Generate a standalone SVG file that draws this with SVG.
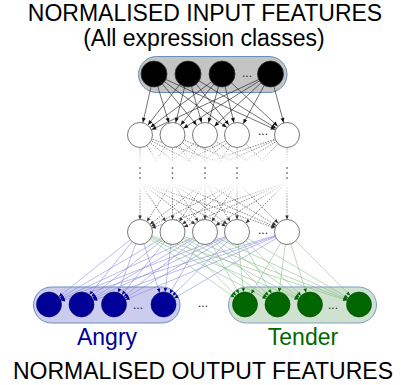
<svg xmlns="http://www.w3.org/2000/svg" width="402" height="385" viewBox="0 0 402 385">
<style>
.t{font-family:"Liberation Sans",Arial,sans-serif;text-anchor:middle}
.dots{font-family:"Liberation Sans",Arial,sans-serif;font-size:12px;text-anchor:middle;fill:#222}
.in{fill:#000;stroke:#333;stroke-width:0.8}
.hid{fill:#fff;stroke:#555;stroke-width:0.8}
.ob{fill:#000099;stroke:#000066;stroke-width:0.6}
.og{fill:#006600;stroke:#004400;stroke-width:0.6}
.ck line{stroke:#111;stroke-width:0.6;marker-end:url(#aK)}
.cu line{stroke:url(#gU);stroke-width:0.7;stroke-dasharray:1.5 1.2}
.cl line{stroke:url(#gL);stroke-width:0.7;stroke-dasharray:1.5 1.2;marker-end:url(#aD)}
.cb line{stroke:#7878d8;stroke-width:0.5;marker-end:url(#aB)}
.cg line{stroke:#78b478;stroke-width:0.5;marker-end:url(#aG)}
</style>
<defs>
<marker id="aK" markerUnits="userSpaceOnUse" markerWidth="1" markerHeight="1" refX="13" refY="0" orient="auto" overflow="visible"><path d="M0,0 L-4.5,-2 L-4.5,2 Z" fill="#111"/></marker>
<marker id="aD" markerUnits="userSpaceOnUse" markerWidth="1" markerHeight="1" refX="12.5" refY="0" orient="auto" overflow="visible"><path d="M0,0 L-4,-1.8 L-4,1.8 Z" fill="#333"/></marker>
<marker id="aB" markerUnits="userSpaceOnUse" markerWidth="1" markerHeight="1" refX="12.5" refY="0" orient="auto" overflow="visible"><path d="M0,0 L-4,-1.8 L-4,1.8 Z" fill="#000099"/></marker>
<marker id="aG" markerUnits="userSpaceOnUse" markerWidth="1" markerHeight="1" refX="12.5" refY="0" orient="auto" overflow="visible"><path d="M0,0 L-4,-1.8 L-4,1.8 Z" fill="#006600"/></marker>
<linearGradient id="gU" gradientUnits="userSpaceOnUse" x1="0" y1="146" x2="0" y2="164"><stop offset="0" stop-color="#555" stop-opacity="1"/><stop offset="1" stop-color="#555" stop-opacity="0"/></linearGradient>
<linearGradient id="gL" gradientUnits="userSpaceOnUse" x1="0" y1="183" x2="0" y2="200"><stop offset="0" stop-color="#555" stop-opacity="0"/><stop offset="1" stop-color="#555" stop-opacity="1"/></linearGradient>
</defs>
<rect width="402" height="385" fill="#fff"/>
<g id="titles">
<text class="t" x="205" y="21" font-size="23">NORMALISED INPUT FEATURES</text>
<text class="t" x="204" y="46" font-size="23">(All expression classes)</text>
<text class="t" x="203" y="379" font-size="23">NORMALISED OUTPUT FEATURES</text>
</g>
<g id="groups">
<rect x="138.5" y="56.5" width="148.5" height="36" rx="18" fill="#c4c4c4" stroke="#6c8ebf" stroke-width="1"/>
<rect x="33.5" y="287" width="146.5" height="36" rx="18" fill="#ccccee" stroke="#6c8ebf" stroke-width="1"/>
<rect x="228.5" y="287" width="148" height="36" rx="18" fill="#cfe2cf" stroke="#7f9fc4" stroke-width="1"/>
</g>
<g id="connectors">
<g class="ck">
<line x1="154" y1="74" x2="140" y2="135"/><line x1="154" y1="74" x2="172.5" y2="135"/><line x1="154" y1="74" x2="205" y2="135"/><line x1="154" y1="74" x2="237" y2="135"/><line x1="154" y1="74" x2="287" y2="135"/>
<line x1="188" y1="74" x2="140" y2="135"/><line x1="188" y1="74" x2="172.5" y2="135"/><line x1="188" y1="74" x2="205" y2="135"/><line x1="188" y1="74" x2="237" y2="135"/><line x1="188" y1="74" x2="287" y2="135"/>
<line x1="222" y1="74" x2="140" y2="135"/><line x1="222" y1="74" x2="172.5" y2="135"/><line x1="222" y1="74" x2="205" y2="135"/><line x1="222" y1="74" x2="237" y2="135"/><line x1="222" y1="74" x2="287" y2="135"/>
<line x1="270.5" y1="74" x2="140" y2="135"/><line x1="270.5" y1="74" x2="172.5" y2="135"/><line x1="270.5" y1="74" x2="205" y2="135"/><line x1="270.5" y1="74" x2="237" y2="135"/><line x1="270.5" y1="74" x2="287" y2="135"/>
</g>
<g class="cu">
<line x1="140" y1="135" x2="140" y2="185"/><line x1="140" y1="135" x2="172.5" y2="185"/><line x1="140" y1="135" x2="205" y2="185"/><line x1="140" y1="135" x2="237" y2="185"/><line x1="140" y1="135" x2="287" y2="185"/>
<line x1="172.5" y1="135" x2="140" y2="185"/><line x1="172.5" y1="135" x2="172.5" y2="185"/><line x1="172.5" y1="135" x2="205" y2="185"/><line x1="172.5" y1="135" x2="237" y2="185"/><line x1="172.5" y1="135" x2="287" y2="185"/>
<line x1="205" y1="135" x2="140" y2="185"/><line x1="205" y1="135" x2="172.5" y2="185"/><line x1="205" y1="135" x2="205" y2="185"/><line x1="205" y1="135" x2="237" y2="185"/><line x1="205" y1="135" x2="287" y2="185"/>
<line x1="237" y1="135" x2="140" y2="185"/><line x1="237" y1="135" x2="172.5" y2="185"/><line x1="237" y1="135" x2="205" y2="185"/><line x1="237" y1="135" x2="237" y2="185"/><line x1="237" y1="135" x2="287" y2="185"/>
<line x1="287" y1="135" x2="140" y2="185"/><line x1="287" y1="135" x2="172.5" y2="185"/><line x1="287" y1="135" x2="205" y2="185"/><line x1="287" y1="135" x2="237" y2="185"/><line x1="287" y1="135" x2="287" y2="185"/>
</g>
<g class="cl">
<line x1="140" y1="182" x2="140" y2="232"/><line x1="140" y1="182" x2="172.5" y2="232"/><line x1="140" y1="182" x2="205" y2="232"/><line x1="140" y1="182" x2="237" y2="232"/><line x1="140" y1="182" x2="287" y2="232"/>
<line x1="172.5" y1="182" x2="140" y2="232"/><line x1="172.5" y1="182" x2="172.5" y2="232"/><line x1="172.5" y1="182" x2="205" y2="232"/><line x1="172.5" y1="182" x2="237" y2="232"/><line x1="172.5" y1="182" x2="287" y2="232"/>
<line x1="205" y1="182" x2="140" y2="232"/><line x1="205" y1="182" x2="172.5" y2="232"/><line x1="205" y1="182" x2="205" y2="232"/><line x1="205" y1="182" x2="237" y2="232"/><line x1="205" y1="182" x2="287" y2="232"/>
<line x1="237" y1="182" x2="140" y2="232"/><line x1="237" y1="182" x2="172.5" y2="232"/><line x1="237" y1="182" x2="205" y2="232"/><line x1="237" y1="182" x2="237" y2="232"/><line x1="237" y1="182" x2="287" y2="232"/>
<line x1="287" y1="182" x2="140" y2="232"/><line x1="287" y1="182" x2="172.5" y2="232"/><line x1="287" y1="182" x2="205" y2="232"/><line x1="287" y1="182" x2="237" y2="232"/><line x1="287" y1="182" x2="287" y2="232"/>
</g>
<g class="cb">
<line x1="140" y1="232" x2="49" y2="304.5"/><line x1="140" y1="232" x2="81.5" y2="304.5"/><line x1="140" y1="232" x2="114" y2="304.5"/><line x1="140" y1="232" x2="163.5" y2="304.5"/>
<line x1="172.5" y1="232" x2="49" y2="304.5"/><line x1="172.5" y1="232" x2="81.5" y2="304.5"/><line x1="172.5" y1="232" x2="114" y2="304.5"/><line x1="172.5" y1="232" x2="163.5" y2="304.5"/>
<line x1="205" y1="232" x2="49" y2="304.5"/><line x1="205" y1="232" x2="81.5" y2="304.5"/><line x1="205" y1="232" x2="114" y2="304.5"/><line x1="205" y1="232" x2="163.5" y2="304.5"/>
<line x1="237" y1="232" x2="49" y2="304.5"/><line x1="237" y1="232" x2="81.5" y2="304.5"/><line x1="237" y1="232" x2="114" y2="304.5"/><line x1="237" y1="232" x2="163.5" y2="304.5"/>
<line x1="287" y1="232" x2="49" y2="304.5"/><line x1="287" y1="232" x2="81.5" y2="304.5"/><line x1="287" y1="232" x2="114" y2="304.5"/><line x1="287" y1="232" x2="163.5" y2="304.5"/>
</g>
<g class="cg">
<line x1="140" y1="232" x2="245" y2="304.5"/><line x1="140" y1="232" x2="277.5" y2="304.5"/><line x1="140" y1="232" x2="310" y2="304.5"/><line x1="140" y1="232" x2="359" y2="304.5"/>
<line x1="172.5" y1="232" x2="245" y2="304.5"/><line x1="172.5" y1="232" x2="277.5" y2="304.5"/><line x1="172.5" y1="232" x2="310" y2="304.5"/><line x1="172.5" y1="232" x2="359" y2="304.5"/>
<line x1="205" y1="232" x2="245" y2="304.5"/><line x1="205" y1="232" x2="277.5" y2="304.5"/><line x1="205" y1="232" x2="310" y2="304.5"/><line x1="205" y1="232" x2="359" y2="304.5"/>
<line x1="237" y1="232" x2="245" y2="304.5"/><line x1="237" y1="232" x2="277.5" y2="304.5"/><line x1="237" y1="232" x2="310" y2="304.5"/><line x1="237" y1="232" x2="359" y2="304.5"/>
<line x1="287" y1="232" x2="245" y2="304.5"/><line x1="287" y1="232" x2="277.5" y2="304.5"/><line x1="287" y1="232" x2="310" y2="304.5"/><line x1="287" y1="232" x2="359" y2="304.5"/>
</g>
</g>
<g id="vdots" fill="#333">
<circle cx="140" cy="168" r="0.8"/><circle cx="140" cy="173" r="0.8"/><circle cx="140" cy="178" r="0.8"/>
<circle cx="172.5" cy="168" r="0.8"/><circle cx="172.5" cy="173" r="0.8"/><circle cx="172.5" cy="178" r="0.8"/>
<circle cx="205" cy="168" r="0.8"/><circle cx="205" cy="173" r="0.8"/><circle cx="205" cy="178" r="0.8"/>
<circle cx="237" cy="168" r="0.8"/><circle cx="237" cy="173" r="0.8"/><circle cx="237" cy="178" r="0.8"/>
<circle cx="287" cy="168" r="0.8"/><circle cx="287" cy="173" r="0.8"/><circle cx="287" cy="178" r="0.8"/>
</g>
<g id="input-layer">
<circle id="in1" class="in" cx="154" cy="74" r="13"/>
<circle id="in2" class="in" cx="188" cy="74" r="13"/>
<circle id="in3" class="in" cx="222" cy="74" r="13"/>
<circle id="in4" class="in" cx="270.5" cy="74" r="13"/>
<text class="dots" x="247" y="77">...</text>
</g>
<g id="hidden-layer-1">
<circle id="h1a" class="hid" cx="140" cy="135" r="12.5"/>
<circle id="h1b" class="hid" cx="172.5" cy="135" r="12.5"/>
<circle id="h1c" class="hid" cx="205" cy="135" r="12.5"/>
<circle id="h1d" class="hid" cx="237" cy="135" r="12.5"/>
<circle id="h1e" class="hid" cx="287" cy="135" r="12.5"/>
<text class="dots" x="263" y="135">...</text>
</g>
<g id="hidden-layer-2">
<circle id="h2a" class="hid" cx="140" cy="232" r="12.5"/>
<circle id="h2b" class="hid" cx="172.5" cy="232" r="12.5"/>
<circle id="h2c" class="hid" cx="205" cy="232" r="12.5"/>
<circle id="h2d" class="hid" cx="237" cy="232" r="12.5"/>
<circle id="h2e" class="hid" cx="287" cy="232" r="12.5"/>
<text class="dots" x="263" y="234">...</text>
</g>
<g id="angry">
<circle class="ob" cx="49" cy="304.5" r="12.5"/>
<circle class="ob" cx="81.5" cy="304.5" r="12.5"/>
<circle class="ob" cx="114" cy="304.5" r="12.5"/>
<circle class="ob" cx="163.5" cy="304.5" r="12.5"/>
<text class="dots" x="138" y="309">...</text>
<text class="t" x="107" y="345" font-size="23" fill="#000099">Angry</text>
</g>
<text class="dots" x="203" y="307">...</text>
<g id="tender">
<circle class="og" cx="245" cy="304.5" r="12.5"/>
<circle class="og" cx="277.5" cy="304.5" r="12.5"/>
<circle class="og" cx="310" cy="304.5" r="12.5"/>
<circle class="og" cx="359" cy="304.5" r="12.5"/>
<text class="dots" x="333" y="309">...</text>
<text class="t" x="303" y="345" font-size="23" fill="#006600">Tender</text>
</g>
</svg>
